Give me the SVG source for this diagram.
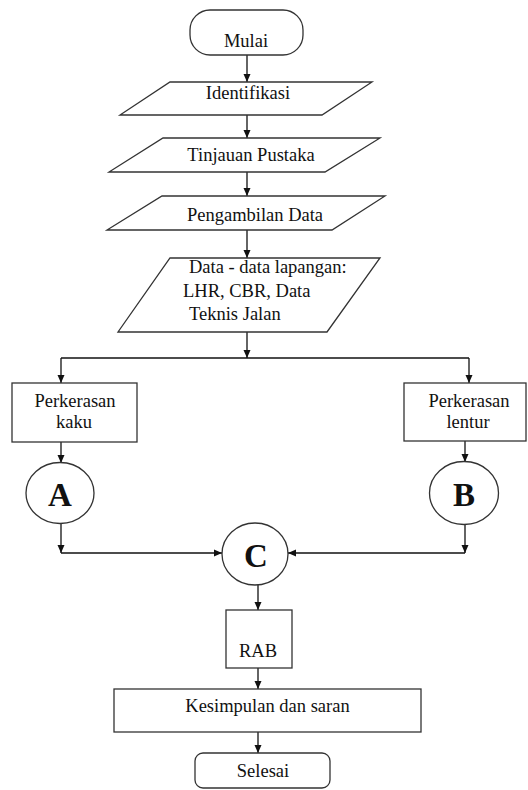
<svg xmlns="http://www.w3.org/2000/svg" width="528" height="790" viewBox="0 0 528 790">
<defs>
<marker id="ah" markerWidth="8" markerHeight="8" refX="8" refY="4" orient="auto" markerUnits="userSpaceOnUse">
<path d="M0,0.5 L8,4 L0,7.5 Z" fill="#111"/>
</marker>
<style>
.s{fill:#fff;stroke:#333;stroke-width:1.3}
.t{font-family:"Liberation Serif","Times New Roman",serif;font-size:18.5px;fill:#111}
.c{text-anchor:middle}
.big{font-family:"Liberation Serif","Times New Roman",serif;font-size:33px;font-weight:bold;fill:#111;text-anchor:middle}
.l{fill:none;stroke:#111;stroke-width:1.3}
</style>
</defs>
<rect width="528" height="790" fill="#fff"/>
<g id="connectors">
<path class="l" d="M247,55 V82" marker-end="url(#ah)"/>
<path class="l" d="M247,115 V138" marker-end="url(#ah)"/>
<path class="l" d="M247,172 V196" marker-end="url(#ah)"/>
<path class="l" d="M247,230 V258" marker-end="url(#ah)"/>
<path class="l" d="M247,332 V358" marker-end="url(#ah)"/>
<path class="l" d="M61,358 H469"/>
<path class="l" d="M61,358 V383" marker-end="url(#ah)"/>
<path class="l" d="M469,358 V383" marker-end="url(#ah)"/>
<path class="l" d="M61,442 V463" marker-end="url(#ah)"/>
<path class="l" d="M465,441 V462" marker-end="url(#ah)"/>
<path class="l" d="M61,524 V553" marker-end="url(#ah)"/>
<path class="l" d="M61,553 H222" marker-end="url(#ah)"/>
<path class="l" d="M465,525 V553" marker-end="url(#ah)"/>
<path class="l" d="M465,553 H288" marker-end="url(#ah)"/>
<path class="l" d="M258,585 V610" marker-end="url(#ah)"/>
<path class="l" d="M258,668 V689" marker-end="url(#ah)"/>
<path class="l" d="M258,732 V753" marker-end="url(#ah)"/>
</g>
<g id="mulai">
<rect class="s" x="190" y="10" width="113" height="45" rx="20"/>
<text class="t c" x="246" y="47">Mulai</text>
</g>
<g id="identifikasi">
<polygon class="s" points="170,82 372,82 322,115 120,115"/>
<text class="t c" x="248" y="99">Identifikasi</text>
</g>
<g id="tinjauan">
<polygon class="s" points="163,138 380,138 325,172 109,172"/>
<text class="t c" x="251" y="161">Tinjauan Pustaka</text>
</g>
<g id="pengambilan">
<polygon class="s" points="162,196 385,196 332,230 107,230"/>
<text class="t c" x="255" y="221">Pengambilan Data</text>
</g>
<g id="data">
<polygon class="s" points="170,258 380,258 327,332 118,332"/>
<text class="t" x="189" y="273">Data - data lapangan:</text>
<text class="t" x="183" y="297">LHR, CBR, Data</text>
<text class="t" x="189" y="320">Teknis Jalan</text>
</g>
<g id="kaku">
<rect class="s" x="12" y="383" width="125" height="59"/>
<text class="t c" x="75" y="407">Perkerasan</text>
<text class="t c" x="74" y="428">kaku</text>
</g>
<g id="lentur">
<rect class="s" x="404" y="383" width="122" height="58"/>
<text class="t c" x="469" y="407">Perkerasan</text>
<text class="t c" x="468" y="428">lentur</text>
</g>
<g id="A">
<ellipse class="s" cx="60" cy="493" rx="34" ry="30.5"/>
<text class="big" x="60" y="506">A</text>
</g>
<g id="B">
<ellipse class="s" cx="464" cy="493" rx="34.5" ry="31.5"/>
<text class="big" x="464" y="506">B</text>
</g>
<g id="C">
<ellipse class="s" cx="255" cy="554" rx="33" ry="31"/>
<text class="big" x="256" y="567">C</text>
</g>
<g id="rab">
<rect class="s" x="226" y="610" width="66" height="58"/>
<text class="t c" x="258" y="657">RAB</text>
</g>
<g id="kesimpulan">
<rect class="s" x="114" y="689" width="307" height="43"/>
<text class="t c" x="267.5" y="712">Kesimpulan dan saran</text>
</g>
<g id="selesai">
<rect class="s" x="195" y="753" width="135" height="35" rx="8"/>
<text class="t c" x="263" y="777">Selesai</text>
</g>
</svg>
